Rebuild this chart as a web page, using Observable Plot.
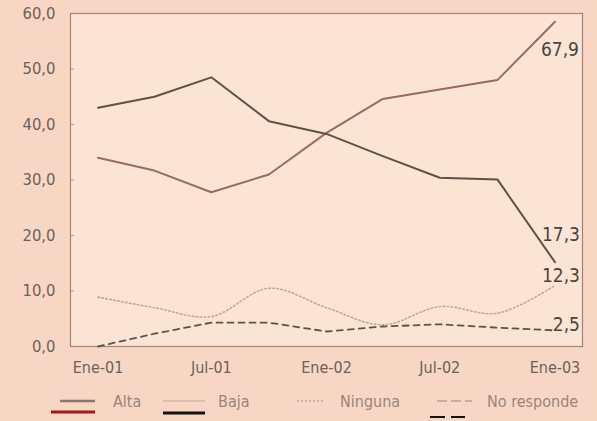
<!DOCTYPE html>
<html>
<head>
<meta charset="utf-8">
<script src="https://cdn.jsdelivr.net/npm/d3@7"></script>
<script src="https://cdn.jsdelivr.net/npm/@observablehq/plot@0.6"></script>
<style>
  html, body { margin: 0; padding: 0; background: #f7d7c4; }
  #wrap { position: relative; width: 597px; height: 421px; background: #f7d7c4; overflow: hidden;
          font-family: "Liberation Sans Narrow", "DejaVu Sans Condensed", "Arial Narrow", sans-serif; }
  #legend { position: absolute; left: 0; top: 388px; width: 597px; height: 33px; }
  #legend svg { position: absolute; left: 0; top: 0; }
</style>
</head>
<body>
<div id="wrap"><div id="chart"></div><div id="legend"></div></div>
<script>
// ---- data ----
const dates = ["2001-01-01","2001-04-01","2001-07-01","2001-10-01","2002-01-01","2002-04-01","2002-07-01","2002-10-01","2003-01-01"];
const alta = [34.0, 31.7, 27.8, 31.0, 38.5, 44.6, 46.3, 48.0, 58.5];
const baja = [43.0, 45.0, 48.5, 40.6, 38.3, 34.3, 30.4, 30.1, 15.2];
const ninguna = [8.9, 7.0, 5.4, 10.5, 7.0, 3.9, 7.2, 6.0, 11.0];
const noResponde = [0.0, 2.3, 4.3, 4.3, 2.7, 3.6, 4.0, 3.4, 2.9];
const seriesNames = ["Alta", "Baja", "Ninguna", "No responde"];
const endLabels = ["67,9", "17,3", "12,3", "2,5"];
const xTicks = ["2001-01-01","2001-07-01","2002-01-01","2002-07-01","2003-01-01"];
const xTickLabels = ["Ene-01","Jul-01","Ene-02","Jul-02","Ene-03"];
const yTicks = [0, 10, 20, 30, 40, 50, 60];

const parse = d3.utcParse("%Y-%m-%d");
const mk = (vals) => dates.map((d, i) => ({date: parse(d), value: vals[i]}));
const sAlta = mk(alta), sBaja = mk(baja), sNing = mk(ninguna), sNoR = mk(noResponde);
const last = (s) => [s[s.length - 1]];
const tickDates = xTicks.map(parse);
const labelOf = new Map(tickDates.map((d, i) => [+d, xTickLabels[i]]));
const fmt = (v) => v.toFixed(1).replace(".", ",");

const FONT = '"Liberation Sans Narrow", "DejaVu Sans Condensed", "Arial Narrow", sans-serif';
const cAlta = "#9a6a62", cBaja = "#5e514b", cNing = "#c4a596", cNoR = "#5e514b";

const chart = Plot.plot({
  width: 597,
  height: 388,
  marginLeft: 70,
  marginRight: 15,
  marginTop: 13,
  marginBottom: 42,
  style: {background: "transparent", fontFamily: FONT},
  x: {type: "utc", domain: [parse("2000-11-18"), parse("2003-02-14")]},
  y: {domain: [0, 60]},
  marks: [
    Plot.frame({fill: "#fce4d4", stroke: null}),
    Plot.axisX({ticks: tickDates, tickFormat: (d) => labelOf.get(+d), tickSize: 0, tickPadding: 15,
                fontSize: 16, fill: "#6e5f58", label: null}),
    Plot.axisY({ticks: yTicks, tickFormat: fmt, tickSize: 0, tickPadding: 15,
                fontSize: 16.5, fill: "#6e5f58", label: null}),
    Plot.axisY({ticks: yTicks.slice(1, -1), tickFormat: () => "", tickSize: -4, stroke: "#b89a8c", label: null}),
    Plot.frame({stroke: "#a08276", strokeWidth: 1.2}),
    Plot.lineY(sNing, {x: "date", y: "value", stroke: cNing, strokeWidth: 1.6, strokeDasharray: "1.5,2.5", curve: "catmull-rom"}),
    Plot.lineY(sNoR, {x: "date", y: "value", stroke: cNoR, strokeWidth: 1.8, strokeDasharray: "6,5"}),
    Plot.lineY(sAlta, {x: "date", y: "value", stroke: cAlta, strokeWidth: 2}),
    Plot.lineY(sBaja, {x: "date", y: "value", stroke: cBaja, strokeWidth: 2}),
    Plot.text(last(sAlta), {x: "date", y: "value", text: () => endLabels[0], dx: 24, dy: 28, textAnchor: "end", fontSize: 19, fill: "#4e423d"}),
    Plot.text(last(sBaja), {x: "date", y: "value", text: () => endLabels[1], dx: 25, dy: -27, textAnchor: "end", fontSize: 19, fill: "#4e423d"}),
    Plot.text(last(sNing), {x: "date", y: "value", text: () => endLabels[2], dx: 25, dy: -10, textAnchor: "end", fontSize: 19, fill: "#4e423d"}),
    Plot.text(last(sNoR), {x: "date", y: "value", text: () => endLabels[3], dx: 25, dy: -5, textAnchor: "end", fontSize: 19, fill: "#4e423d"})
  ]
});
document.getElementById("chart").appendChild(chart);

// ---- legend (HTML/SVG below the chart) ----
const lg = d3.select("#legend").append("svg").attr("width", 597).attr("height", 33);
const ly = 13;
const txt = (x, t) => lg.append("text").attr("x", x).attr("y", ly).attr("dy", "0.35em")
  .attr("font-family", FONT).attr("font-size", 16).attr("fill", "#9a847b").text(t);
// Alta
lg.append("line").attr("x1", 60).attr("x2", 95).attr("y1", ly).attr("y2", ly).attr("stroke", "#8a7570").attr("stroke-width", 2.5);
lg.append("line").attr("x1", 51).attr("x2", 95).attr("y1", ly + 11).attr("y2", ly + 11).attr("stroke", "#a01818").attr("stroke-width", 3);
txt(113, seriesNames[0]);
// Baja
lg.append("line").attr("x1", 163).attr("x2", 205).attr("y1", ly).attr("y2", ly).attr("stroke", "#c4a596").attr("stroke-width", 1.2);
lg.append("line").attr("x1", 163).attr("x2", 205).attr("y1", ly + 12).attr("y2", ly + 12).attr("stroke", "#111").attr("stroke-width", 3);
txt(218, seriesNames[1]);
// Ninguna
lg.append("line").attr("x1", 297).attr("x2", 323).attr("y1", ly).attr("y2", ly).attr("stroke", "#c4a596").attr("stroke-width", 1.5).attr("stroke-dasharray", "2,2");
txt(340, seriesNames[2]);
// No responde
lg.append("line").attr("x1", 437).attr("x2", 472).attr("y1", ly).attr("y2", ly).attr("stroke", "#bda093").attr("stroke-width", 1.3).attr("stroke-dasharray", "10,4");
lg.append("line").attr("x1", 430).attr("x2", 445).attr("y1", ly + 16).attr("y2", ly + 16).attr("stroke", "#111").attr("stroke-width", 2);
lg.append("line").attr("x1", 451).attr("x2", 465).attr("y1", ly + 16).attr("y2", ly + 16).attr("stroke", "#111").attr("stroke-width", 2);
txt(487, seriesNames[3]);
</script>
</body>
</html>
